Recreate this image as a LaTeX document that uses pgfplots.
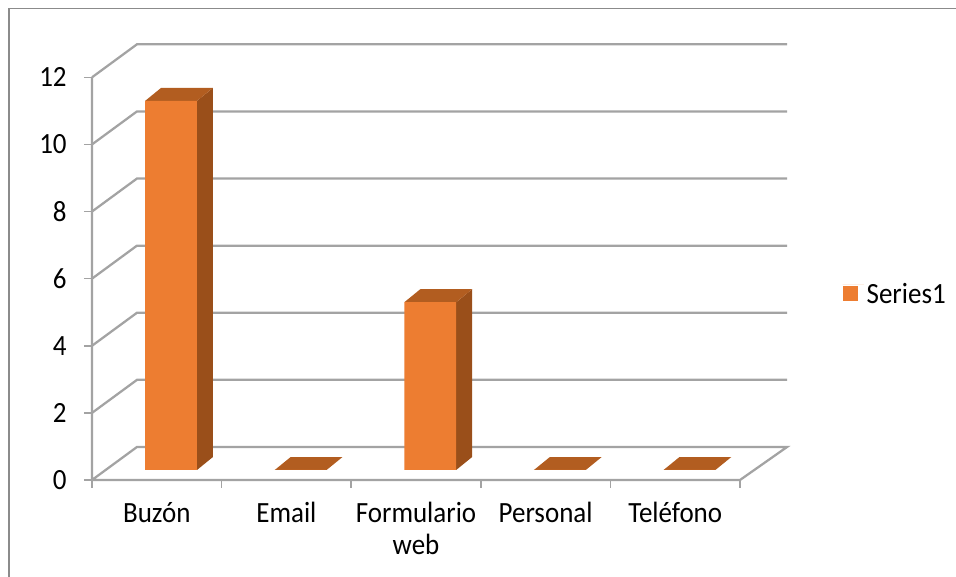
\documentclass[border=0pt]{standalone}
\usepackage{fontspec}
\setmainfont[FakeStretch=0.92]{Carlito}
\usepackage{pgfplots}
\pgfplotsset{compat=1.18}
\definecolor{barfront}{HTML}{ED7D31}
\definecolor{bartop}{HTML}{B25D20}
\definecolor{barside}{HTML}{9A4F1A}
\definecolor{wall}{HTML}{A3A3A3}
\begin{document}
\begin{tikzpicture}
% page size: 1px = 0.75pt, origin at the front-left corner of the floor
\path[use as bounding box] (-69pt,-72.75pt) rectangle (648pt,360pt);
\draw[color=wall!85!black,line width=1.2pt] (648pt,353.6pt) -- (-62.2pt,353.6pt) -- (-62.2pt,-72.75pt);
\begin{axis}[
    scale only axis,
    width=486pt,
    height=302pt,
    xmin=0, xmax=5,
    ymin=0, ymax=12,
    clip=false,
    axis line style={draw=none},
    tick style={color=wall,line width=1.2pt},
    major tick length=6pt,
    tick align=outside,
    xtick pos=bottom,
    ytick pos=left,
    xtick={0,1,2,3,4,5},
    x tick label as interval,
    xticklabels={Buzón,Email,{Formulario\\web},Personal,Teléfono},
    ytick={0,2,4,6,8,10,12},
    /pgf/number format/assume math mode=true,
    tick label style={font=\fontsize{22}{24}\selectfont,text=black},
    xticklabel style={align=center,yshift=-7pt},
    yticklabel style={xshift=-9.5pt},
    legend style={draw=none,fill=none,at={(1.158,0.46)},anchor=west,
        font=\fontsize{22}{24}\selectfont,inner sep=0pt},
    legend image code/.code={\fill[barfront] (0pt,-12.3pt) rectangle (11.2pt,-1.1pt);\path (0pt,0pt) -- (16pt,0pt);},
]
% side walls, floor and grid
\addplot[wall,line width=1.7pt,forget plot] coordinates {(0,12) (0,0) (5,0) (5.363,0.984) (0.347,0.984) (0,0)};
\addplot[wall,line width=1.7pt,forget plot] coordinates {(0,2) (0.347,2.984) (5.363,2.984)};
\addplot[wall,line width=1.7pt,forget plot] coordinates {(0,4) (0.347,4.984) (5.363,4.984)};
\addplot[wall,line width=1.7pt,forget plot] coordinates {(0,6) (0.347,6.984) (5.363,6.984)};
\addplot[wall,line width=1.7pt,forget plot] coordinates {(0,8) (0.347,8.984) (5.363,8.984)};
\addplot[wall,line width=1.7pt,forget plot] coordinates {(0,10) (0.347,10.984) (5.363,10.984)};
\addplot[wall,line width=1.7pt,forget plot] coordinates {(0,12) (0.347,12.984) (5.363,12.984)};
% top and side faces of the bars
\addplot[fill=barside,draw=none,yshift=7.5pt,forget plot] coordinates {(0.81,0) (0.933,0.387) (0.933,11.387) (0.81,11)} -- cycle;
\addplot[fill=bartop,draw=none,yshift=7.5pt,forget plot] coordinates {(0.41,11) (0.81,11) (0.933,11.387) (0.533,11.387)} -- cycle;
\addplot[fill=bartop,draw=none,yshift=7.5pt,forget plot] coordinates {(1.41,0) (1.81,0) (1.933,0.387) (1.533,0.387)} -- cycle;
\addplot[fill=barside,draw=none,yshift=7.5pt,forget plot] coordinates {(2.81,0) (2.933,0.387) (2.933,5.387) (2.81,5)} -- cycle;
\addplot[fill=bartop,draw=none,yshift=7.5pt,forget plot] coordinates {(2.41,5) (2.81,5) (2.933,5.387) (2.533,5.387)} -- cycle;
\addplot[fill=bartop,draw=none,yshift=7.5pt,forget plot] coordinates {(3.41,0) (3.81,0) (3.933,0.387) (3.533,0.387)} -- cycle;
\addplot[fill=bartop,draw=none,yshift=7.5pt,forget plot] coordinates {(4.41,0) (4.81,0) (4.933,0.387) (4.533,0.387)} -- cycle;
% front faces: the actual values
\addplot[ybar,bar width=38.9pt,fill=barfront,draw=none,yshift=7.5pt] coordinates {(0.61,11) (1.61,0) (2.61,5) (3.61,0) (4.61,0)};
\addlegendentry{Series1}
\end{axis}
\end{tikzpicture}
\end{document}
